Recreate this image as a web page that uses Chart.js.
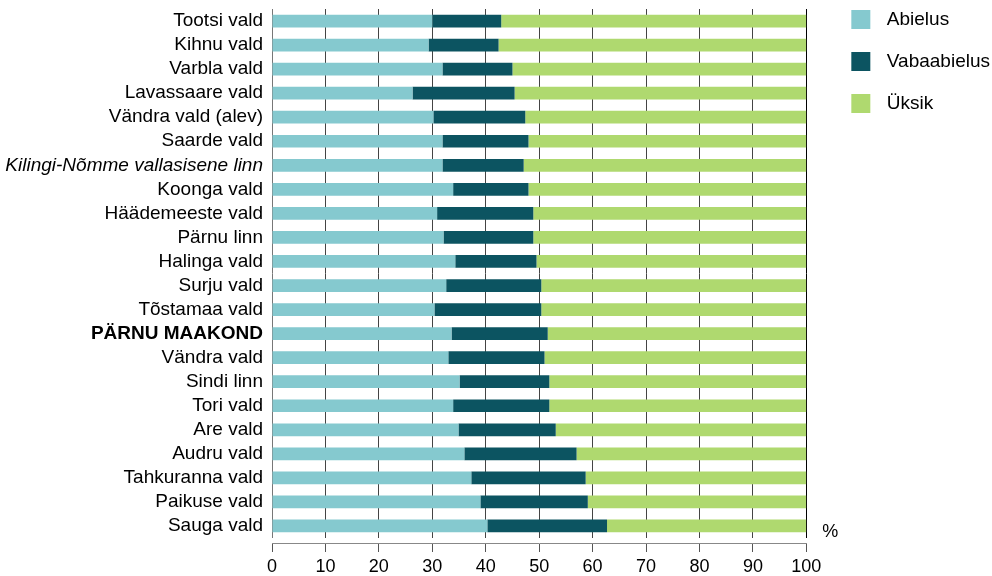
<!DOCTYPE html>
<html lang="et">
<head>
<meta charset="utf-8">
<title>Pärnu maakond</title>
<script src="https://cdn.jsdelivr.net/npm/chart.js@4/dist/chart.umd.min.js"></script>
<style>
	html, body { margin: 0; padding: 0; background: #fff; }
	canvas { display: block; }
</style>
</head>
<body>
<canvas id="chart" width="992" height="576"></canvas>
<script>
const categories = [
	'Tootsi vald',
	'Kihnu vald',
	'Varbla vald',
	'Lavassaare vald',
	'Vändra vald (alev)',
	'Saarde vald',
	'Kilingi-Nõmme vallasisene linn',
	'Koonga vald',
	'Häädemeeste vald',
	'Pärnu linn',
	'Halinga vald',
	'Surju vald',
	'Tõstamaa vald',
	'PÄRNU MAAKOND',
	'Vändra vald',
	'Sindi linn',
	'Tori vald',
	'Are vald',
	'Audru vald',
	'Tahkuranna vald',
	'Paikuse vald',
	'Sauga vald',
];
const abielus = [30.0, 29.3, 31.9, 26.3, 30.2, 31.9, 31.9, 33.9, 30.9, 32.1, 34.3, 32.6, 30.4, 33.6, 33.0, 35.1, 33.9, 34.9, 36.0, 37.3, 39.0, 40.3];
const vabaabielus = [12.9, 13.1, 13.1, 19.1, 17.2, 16.1, 15.2, 14.1, 18.0, 16.8, 15.2, 17.8, 20.0, 18.0, 18.0, 16.8, 18.0, 18.2, 21.0, 21.4, 20.1, 22.4];
const uksik = [57.1, 57.6, 55.0, 54.6, 52.6, 52.0, 52.9, 52.0, 51.1, 51.1, 50.5, 49.6, 49.6, 48.4, 49.0, 48.1, 48.1, 46.9, 43.0, 41.3, 40.9, 37.3];
const xTicks = [0, 10, 20, 30, 40, 50, 60, 70, 80, 90, 100];
const italicLabels = ['Kilingi-Nõmme vallasisene linn'];
const boldLabels = ['PÄRNU MAAKOND'];

Chart.defaults.font.family = '"Liberation Sans", Arial, Helvetica, sans-serif';
Chart.defaults.color = '#000';

const percentSign = {
	id: 'percentSign',
	afterDraw(chart) {
		const { ctx, chartArea } = chart;
		ctx.save();
		ctx.font = '18px "Liberation Sans", Arial, sans-serif';
		ctx.fillStyle = '#000';
		ctx.textAlign = 'left';
		ctx.textBaseline = 'middle';
		ctx.fillText('%', chartArea.right + 16, chartArea.bottom - 6);
		ctx.restore();
	},
};

const config = {
	type: 'bar',
	data: {
		labels: categories,
		datasets: [
			{ label: 'Abielus', data: abielus, backgroundColor: '#85c9cf' },
			{ label: 'Vabaabielus', data: vabaabielus, backgroundColor: '#0c5461' },
			{ label: 'Üksik', data: uksik, backgroundColor: '#afd96f' },
		],
	},
	options: {
		indexAxis: 'y',
		responsive: false,
		animation: false,
		layout: { padding: { top: -6, right: -8, bottom: 0, left: 0 } },
		datasets: {
			bar: { borderWidth: 0, categoryPercentage: 1, barPercentage: 0.53 },
		},
		scales: {
			x: {
				stacked: true,
				min: 0,
				max: 100,
				weight: 0,
				ticks: { display: false, stepSize: 10 },
				grid: {
					drawTicks: false,
					color: (ctx) => {
						const v = ctx.tick ? ctx.tick.value : null;
						if (v === 100) return '#000';
						if (v === 0) return '#777';
						return '#444';
					},
				},
				border: { display: false },
				afterFit: (s) => { s.height = 5; },
			},
			x2: {
				type: 'linear',
				position: 'bottom',
				display: true,
				min: 0,
				max: 100,
				weight: 1,
				afterBuildTicks: (s) => { s.ticks = xTicks.map((v) => ({ value: v })); },
				ticks: { font: { size: 18 }, padding: 4, maxRotation: 0 },
				grid: { drawOnChartArea: false, tickLength: 9, color: '#555' },
				border: { display: true, color: '#888' },
				afterFit: (s) => { s.height = 33; },
			},
			xTop: {
				type: 'linear',
				position: 'top',
				display: true,
				ticks: { display: false },
				grid: { display: false },
				border: { display: false },
				afterFit: (s) => { s.height = 15; },
			},
			y: {
				stacked: true,
				grid: { display: false, drawTicks: false },
				border: { display: false },
				ticks: {
					padding: 9,
					autoSkip: false,
					font: (ctx) => {
						const label = categories[ctx.index];
						return {
							size: 19,
							style: italicLabels.includes(label) ? 'italic' : 'normal',
							weight: boldLabels.includes(label) ? 'bold' : 'normal',
						};
					},
				},
				afterFit: (s) => {
					s.width = 272;
					s.paddingTop = 0;
					s.paddingBottom = 0;
				},
			},
			gapRight: {
				type: 'linear',
				position: 'right',
				display: true,
				ticks: { display: false },
				grid: { display: false },
				border: { display: false },
				afterFit: (s) => { s.width = 29; },
			},
		},
		plugins: {
			tooltip: { enabled: false },
			legend: {
				position: 'right',
				align: 'start',
				labels: {
					boxWidth: 33,
					boxHeight: 33,
					padding: 9,
					font: { size: 19 },
					color: '#000',
					generateLabels: (chart) =>
						Chart.defaults.plugins.legend.labels.generateLabels(chart).map((item) => ({
							...item,
							strokeStyle: '#fff',
							lineWidth: 14,
						})),
				},
			},
		},
	},
	plugins: [percentSign],
};

function renderChart() {
	const chartCanvas = document.getElementById('chart');
	new Chart(chartCanvas, config);
}

renderChart();
</script>
</body>
</html>
